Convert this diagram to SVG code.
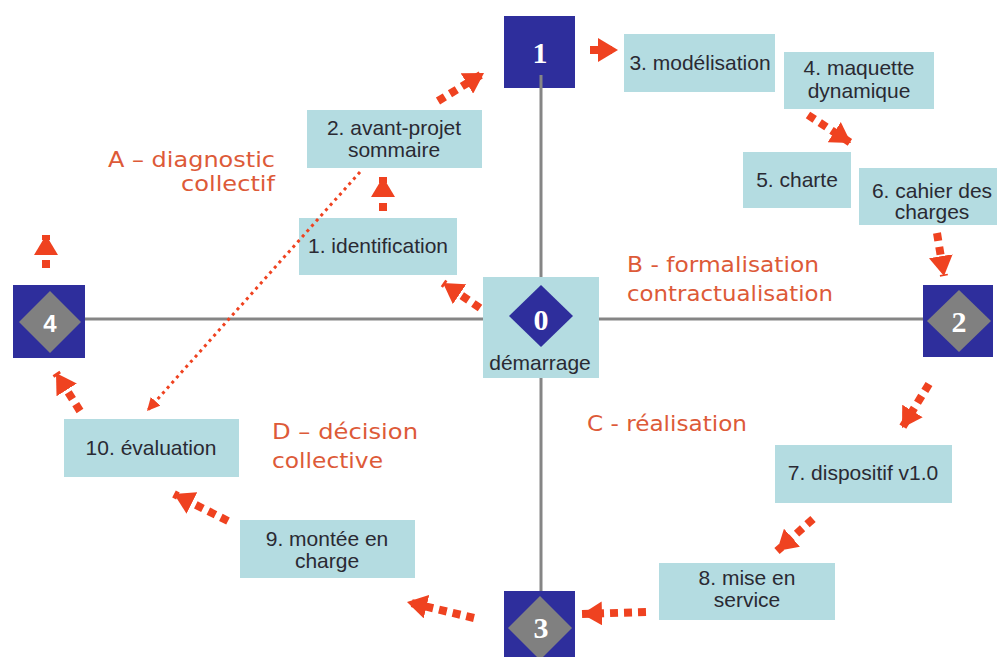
<svg xmlns="http://www.w3.org/2000/svg" width="997" height="657" viewBox="0 0 997 657">
<style>
.box{fill:#b4dce1}
.sq{fill:#2e2e9c}
.dm{fill:#808080}
.dmb{fill:#2e2e9c}
.t{font-family:"Liberation Sans",Arial,sans-serif;font-size:21px;fill:#2a2a33;text-anchor:middle}
.num{font-family:"Liberation Serif","Times New Roman",serif;font-weight:bold;font-size:30px;fill:#ffffff;text-anchor:middle}
.numS{font-family:"Liberation Sans",Arial,sans-serif;font-weight:bold;font-size:24px;fill:#ffffff;text-anchor:middle}
.ph{font-family:"DejaVu Sans",Verdana,sans-serif;font-size:21px;fill:#dd5a38}
.axis{stroke:#858585;stroke-width:3;fill:none}
.arr{stroke:#ef4220;stroke-width:8;stroke-dasharray:8 6;fill:none;marker-end:url(#ah)}
.dot{stroke:#ef4220;stroke-width:3;stroke-dasharray:3 4;fill:none;marker-end:url(#ahs)}
</style>
<defs>
<marker id="ah" viewBox="0 0 20 24" markerUnits="userSpaceOnUse" markerWidth="20" markerHeight="24" refX="20" refY="12" orient="auto">
<path d="M0,0 L20,12 L0,24 z" fill="#ef4220"/>
</marker>
<marker id="ahs" viewBox="0 0 12 12" markerUnits="userSpaceOnUse" markerWidth="13" markerHeight="13" refX="12" refY="6" orient="auto">
<path d="M0,0 L12,6 L0,12 z" fill="#ef4220"/>
</marker>
</defs>
<rect width="997" height="657" fill="#ffffff"/>

<g id="phase-labels">
<text class="ph" x="108" y="167" textLength="167" lengthAdjust="spacingAndGlyphs">A – diagnostic</text>
<text class="ph" x="181" y="191" textLength="94" lengthAdjust="spacingAndGlyphs">collectif</text>
<text class="ph" x="627" y="272" textLength="192" lengthAdjust="spacingAndGlyphs">B - formalisation</text>
<text class="ph" x="627" y="301" textLength="206" lengthAdjust="spacingAndGlyphs">contractualisation</text>
<text class="ph" x="587" y="431" textLength="160" lengthAdjust="spacingAndGlyphs">C - réalisation</text>
<text class="ph" x="272" y="439" textLength="146" lengthAdjust="spacingAndGlyphs">D – décision</text>
<text class="ph" x="272" y="468" textLength="111" lengthAdjust="spacingAndGlyphs">collective</text>
</g>

<g id="n1">
<rect class="sq" x="504" y="16" width="71" height="72"/>
<text class="num" x="540" y="63">1</text>
</g>
<g id="n2">
<rect class="sq" x="923" y="285" width="70" height="72"/>
<polygon class="dm" points="959,290 991,321 959,352 927,321"/>
<text class="num" x="959" y="332">2</text>
</g>
<g id="n3">
<rect class="sq" x="504" y="591" width="71" height="72"/>
<polygon class="dm" points="540,596 572,628 540,660 508,628"/>
<text class="num" x="541" y="638">3</text>
</g>
<g id="n4">
<rect class="sq" x="13" y="285" width="72" height="73"/>
<polygon class="dm" points="50,291 81,322 50,353 19,322"/>
<text class="numS" x="50" y="332">4</text>
</g>
<g id="n0">
<rect class="box" x="483" y="277" width="116" height="101"/>
<polygon class="dmb" points="541,285 573,316 541,347 509,316"/>
<text class="num" x="541" y="330">0</text>
<text class="t" x="540" y="370">démarrage</text>
</g>
<g id="s1">
<rect class="box" x="299" y="218" width="158" height="57"/>
<text class="t" x="378" y="253">1. identification</text>
</g>
<g id="s2">
<rect class="box" x="307" y="110" width="175" height="58"/>
<text class="t" x="394" y="135">2. avant-projet</text>
<text class="t" x="394" y="157">sommaire</text>
</g>
<g id="s3">
<rect class="box" x="624" y="34" width="151" height="58"/>
<text class="t" x="700" y="70">3. modélisation</text>
</g>
<g id="s4">
<rect class="box" x="784" y="52" width="150" height="57"/>
<text class="t" x="859" y="75">4. maquette</text>
<text class="t" x="859" y="98">dynamique</text>
</g>
<g id="s5">
<rect class="box" x="743" y="152" width="108" height="56"/>
<text class="t" x="797" y="187">5. charte</text>
</g>
<g id="s6">
<rect class="box" x="859" y="168" width="142" height="57"/>
<text class="t" x="932" y="198">6. cahier des</text>
<text class="t" x="932" y="219">charges</text>
</g>
<g id="s7">
<rect class="box" x="775" y="445" width="177" height="58"/>
<text class="t" x="863" y="480">7. dispositif v1.0</text>
</g>
<g id="s8">
<rect class="box" x="659" y="563" width="176" height="57"/>
<text class="t" x="747" y="585">8. mise en</text>
<text class="t" x="747" y="607">service</text>
</g>
<g id="s9">
<rect class="box" x="240" y="520" width="175" height="58"/>
<text class="t" x="327" y="546">9. montée en</text>
<text class="t" x="327" y="568">charge</text>
</g>
<g id="s10">
<rect class="box" x="64" y="419" width="175" height="58"/>
<text class="t" x="151" y="455">10. évaluation</text>
</g>

<g id="axes">
<line class="axis" x1="541" y1="75" x2="541" y2="277"/>
<line class="axis" x1="541" y1="378" x2="541" y2="591"/>
<line class="axis" x1="85" y1="319" x2="483" y2="319"/>
<line class="axis" x1="599" y1="319" x2="923" y2="319"/>
</g>

<g id="connectors">
<line class="arr" x1="590" y1="50" x2="618" y2="50"/>
<line class="arr" x1="808" y1="115" x2="851" y2="143"/>
<line class="arr" x1="937" y1="233" x2="944" y2="276"/>
<line class="arr" x1="929" y1="384" x2="902" y2="428"/>
<line class="arr" x1="813" y1="519" x2="777" y2="551"/>
<line class="arr" x1="646" y1="612" x2="582" y2="614"/>
<line class="arr" x1="474" y1="618" x2="407" y2="602"/>
<line class="arr" x1="228" y1="521" x2="174" y2="494"/>
<line class="arr" x1="80" y1="411" x2="56" y2="373"/>
<line class="arr" x1="46" y1="268" x2="46" y2="235"/>
<line class="arr" x1="480" y1="308" x2="443" y2="283"/>
<line class="arr" x1="383" y1="211" x2="383" y2="177"/>
<line class="arr" x1="438" y1="101" x2="484" y2="73"/>
<line class="dot" x1="360" y1="172" x2="147" y2="411"/>
</g>
</svg>
